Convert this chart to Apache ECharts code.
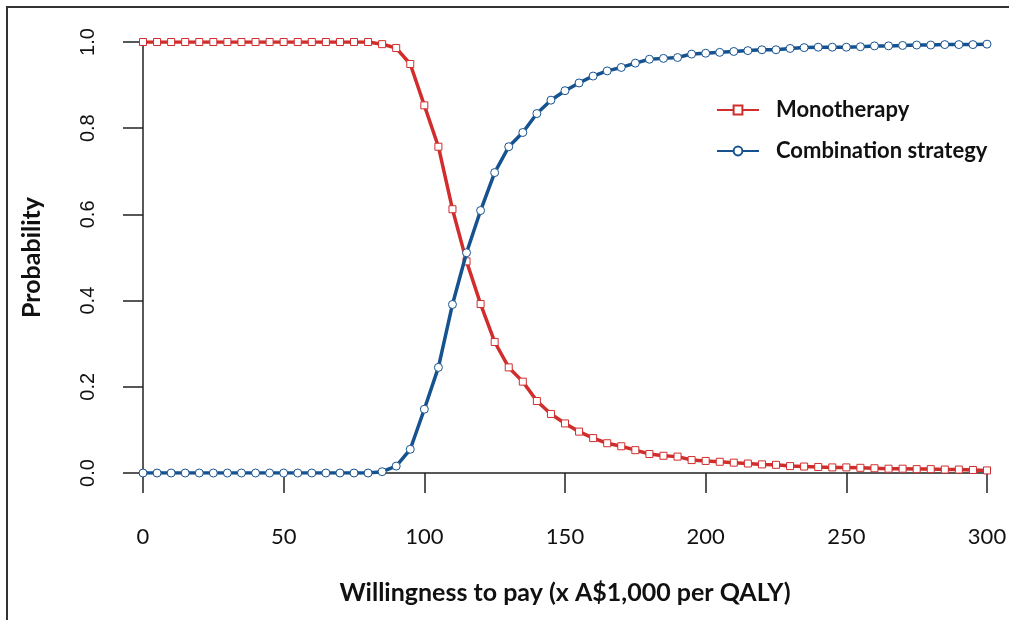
<!DOCTYPE html>
<html>
<head>
<meta charset="utf-8">
<script src="https://cdn.jsdelivr.net/npm/echarts@6/dist/echarts.min.js"></script>
<style>
  html, body { margin: 0; padding: 0; background: #fff; }
  #chart { width: 1009px; height: 620px; }
</style>
</head>
<body>
<div id="chart"></div>
<script>
// willingness to pay, x A$1,000 per QALY
const wtp = [
  0, 5, 10, 15, 20, 25, 30, 35, 40, 45, 50, 55, 60, 65, 70, 75, 80, 85, 90, 95,
  100, 105, 110, 115, 120, 125, 130, 135, 140, 145, 150, 155, 160, 165, 170, 175, 180, 185, 190, 195,
  200, 205, 210, 215, 220, 225, 230, 235, 240, 245, 250, 255, 260, 265, 270, 275, 280, 285, 290, 295, 300
]
const monotherapy = [
  1, 1, 1, 1, 1, 1, 1, 1, 1, 1, 1, 1, 1, 1, 1, 1, 1, 0.995, 0.986, 0.949,
  0.853, 0.757, 0.612, 0.491, 0.392, 0.304, 0.245, 0.212, 0.167, 0.137, 0.115, 0.096, 0.081, 0.069, 0.062, 0.053, 0.044, 0.040, 0.038, 0.030,
  0.028, 0.026, 0.024, 0.022, 0.020, 0.019, 0.016, 0.015, 0.014, 0.013, 0.013, 0.012, 0.011, 0.010, 0.010, 0.009, 0.009, 0.008, 0.008, 0.007, 0.006
]
const combination = [
  0, 0, 0, 0, 0, 0, 0, 0, 0, 0, 0, 0, 0, 0, 0, 0, 0, 0.003, 0.016, 0.055,
  0.148, 0.245, 0.391, 0.511, 0.609, 0.697, 0.757, 0.790, 0.834, 0.865, 0.887, 0.905, 0.921, 0.933, 0.941, 0.951, 0.960, 0.962, 0.964, 0.972,
  0.974, 0.976, 0.978, 0.980, 0.982, 0.982, 0.985, 0.987, 0.988, 0.988, 0.988, 0.989, 0.991, 0.991, 0.992, 0.993, 0.993, 0.994, 0.994, 0.994, 0.995
]
const seriesNames = ['Monotherapy', 'Combination strategy']

const red = '#d12d2d'
const blue = '#15528f'
const axisColor = '#222'
const tickFont = 'Liberation Sans, Arial, sans-serif'
const titleFont = 'Lato, Open Sans, sans-serif'

const chart = echarts.init(document.getElementById('chart'))

const option = {
  animation: false,
  grid: { left: 143, right: 22, top: 42, bottom: 147, outerBoundsMode: 'none', containLabel: false },
  graphic: [{
    type: 'rect',
    shape: { x: 7, y: 7, width: 1020, height: 640 },
    style: { fill: 'none', stroke: '#333', lineWidth: 2 },
    silent: true
  }],
  legend: {
    orient: 'vertical',
    left: 711,
    top: 94,
    itemWidth: 42,
    itemHeight: 11,
    itemGap: 19,
    textStyle: { fontFamily: titleFont, fontWeight: 'bold', fontSize: 22, color: '#111', padding: [0, 0, 0, 12] },
    lineStyle: { width: 2 },
    data: seriesNames
  },
  xAxis: {
    type: 'value',
    min: 0,
    max: 300,
    interval: 50,
    name: 'Willingness to pay (x A$1,000 per QALY)',
    nameLocation: 'middle',
    nameGap: 107,
    nameTextStyle: { fontFamily: titleFont, fontWeight: 'bold', fontSize: 25, color: '#111' },
    axisLine: { show: true, lineStyle: { color: axisColor, width: 1.5 } },
    axisTick: { show: true, inside: false, length: 20, lineStyle: { color: axisColor, width: 1.5 } },
    axisLabel: { margin: 53, fontFamily: titleFont, fontSize: 22, color: '#111' },
    splitLine: { show: false }
  },
  yAxis: {
    type: 'value',
    min: 0,
    max: 1,
    interval: 0.2,
    name: 'Probability',
    nameLocation: 'middle',
    nameGap: 99,
    nameTextStyle: { fontFamily: titleFont, fontWeight: 'bold', fontSize: 25, color: '#111' },
    axisLine: { show: true, lineStyle: { color: axisColor, width: 1.5 } },
    axisTick: { show: true, inside: false, length: 20, lineStyle: { color: axisColor, width: 1.5 } },
    axisLabel: {
      margin: 45,
      rotate: 90,
      fontFamily: tickFont,
      fontSize: 20,
      color: '#111',
      formatter: v => v.toFixed(1)
    },
    splitLine: { show: false }
  },
  series: [
    {
      name: seriesNames[0],
      type: 'line',
      data: wtp.map((x, i) => [x, monotherapy[i]]),
      symbol: 'rect',
      symbolSize: 7,
      showAllSymbol: true,
      lineStyle: { color: red, width: 3.5 },
      itemStyle: { color: '#fff', borderColor: red, borderWidth: 1 },
      z: 2
    },
    {
      name: seriesNames[1],
      type: 'line',
      data: wtp.map((x, i) => [x, combination[i]]),
      symbol: 'circle',
      symbolSize: 8,
      showAllSymbol: true,
      lineStyle: { color: blue, width: 3.5 },
      itemStyle: { color: '#fff', borderColor: blue, borderWidth: 1 },
      z: 3
    }
  ]
}

chart.setOption(option)
</script>
</body>
</html>
